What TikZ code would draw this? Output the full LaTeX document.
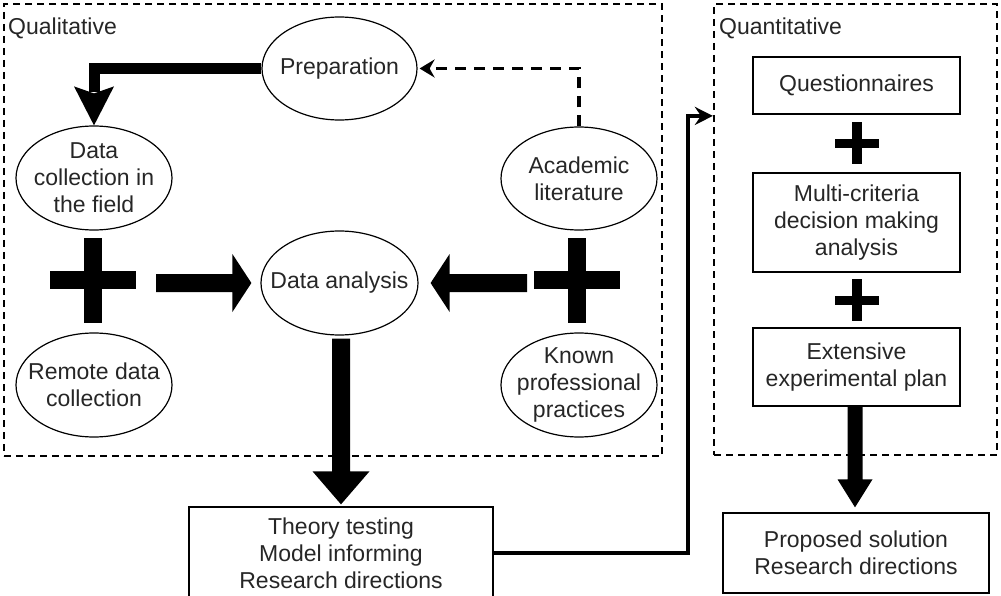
\documentclass[tikz,border=0pt]{standalone}
\usepackage{fontspec}
\setmainfont{Liberation Sans}
\usetikzlibrary{shapes.geometric,arrows.meta,calc}
\begin{document}
\begin{tikzpicture}[x=1pt,y=-1pt,
  font=\fontsize{23}{27}\selectfont,
  every node/.style={text=black!85},
  ell/.style={ellipse, draw, line width=1.2pt, minimum width=156pt, minimum height=104pt, inner sep=0pt},
  lbl/.style={align=center, inner sep=0pt},
  rbox/.style={rectangle, draw, line width=1.3pt, align=center, inner sep=0pt, minimum width=207pt},
  region/.style={rectangle, draw, line width=2.2pt, dash pattern=on 7pt off 5pt},
  heading/.style={anchor=west, inner sep=0pt},
  thickconn/.style={line width=11pt, line join=miter},
  dashconn/.style={line width=3.5pt, dash pattern=on 11pt off 8pt, -{Stealth[length=15pt,width=18pt,inset=5pt]}},
  linkconn/.style={line width=3.5pt, line join=miter, -{Stealth[length=18pt,width=18pt,inset=6pt]}}
]
\useasboundingbox (0,0) rectangle (1001,596);

% regions
\node[region, minimum width=658pt, minimum height=452pt] (qual) at (333,230) {};
\node[region, minimum width=283pt, minimum height=451pt] (quant) at (855.5,229.5) {};
\node[heading] (qualt) at (8,28) {Qualitative};
\node[heading] (quantt) at (719,28) {Quantitative};

% qualitative ellipses
\node[ell, minimum width=155pt, minimum height=103pt, label={[lbl]center:Preparation}] (prep) at (339.5,68.5) {};
\node[ell, label={[lbl]center:{Data\\collection in\\the field}}] (dc) at (94,178) {};
\node[ell, minimum width=157pt, label={[lbl]center:Data analysis}] (da) at (339.5,283) {};
\node[ell, label={[lbl]center:{Remote data\\collection}}] (rd) at (94,385) {};
\node[ell, minimum height=103pt, label={[lbl]center:{Academic\\literature}}] (al) at (579,178.5) {};
\node[ell, label={[lbl]center:{Known\\professional\\practices}}] (kp) at (579,385) {};

% boxes
\node[rbox, minimum height=57pt] (q1) at (856.5,85.5) {Questionnaires};
\node[rbox, minimum height=99pt] (q2) at (856.5,222.5) {Multi-criteria\\decision making\\analysis};
\node[rbox, minimum height=78pt] (q3) at (856.5,367) {Extensive\\experimental plan};
\node[rbox, minimum width=266pt, minimum height=80pt] (q4) at (856,553) {Proposed solution\\Research directions};
\node[rbox, minimum width=304pt, minimum height=92pt] (th) at (341,553) {Theory testing\\Model informing\\Research directions};

% plus signs
\coordinate (pl1) at (92.5,280);
\coordinate (pl2) at (577,280);
\coordinate (pl3) at ($(q1.south)!0.5!(q2.north)$);
\coordinate (pl4) at ($(q2.south)!0.5!(q3.north)$);
\foreach \c in {pl1,pl2}{
  \fill ($(\c)+(-43,-9)$) rectangle ($(\c)+(43,9)$);
  \fill ($(\c)+(-9,-42.5)$) rectangle ($(\c)+(9,42.5)$);
}
\foreach \c in {pl3,pl4}{
  \fill ($(\c)+(-22,-4.5)$) rectangle ($(\c)+(22,4.5)$);
  \fill ($(\c)+(-5,-21)$) rectangle ($(\c)+(5,21)$);
}

% Preparation -> Data collection
\draw[thickconn] (prep.west) -| ($(dc.north)+(0,-33)$);
\fill (dc.north) -- ($(dc.north)+(-20,-39)$) -- ($(dc.north)+(0,-32)$) -- ($(dc.north)+(20,-39)$) -- cycle;

% Academic literature -> Preparation
\draw[dashconn] (al.north) |- ($(prep.east)+(2,0)$);

% block arrow left plus -> Data analysis
\coordinate (a1s) at (156,283);
\coordinate (a1t) at ($(da.west)+(-9,0)$);
\fill ($(a1s)+(0,-9)$) -- ($(a1t)+(-19,-9)$) -- ($(a1t)+(-19,-29)$) -- (a1t)
  -- ($(a1t)+(-19,29)$) -- ($(a1t)+(-19,9)$) -- ($(a1s)+(0,9)$) -- cycle;

% block arrow right plus -> Data analysis
\coordinate (a2s) at (527,283);
\coordinate (a2t) at ($(da.east)+(12,0)$);
\fill ($(a2s)+(0,-9)$) -- ($(a2t)+(19,-9)$) -- ($(a2t)+(19,-29)$) -- (a2t)
  -- ($(a2t)+(19,29)$) -- ($(a2t)+(19,9)$) -- ($(a2s)+(0,9)$) -- cycle;

% Data analysis -> Theory testing
\coordinate (a3s) at ($(da.south)+(1.5,3)$);
\coordinate (a3t) at ($(th.north)+(0,-2)$);
\fill ($(a3s)+(-9,0)$) -- ($(a3t)+(-9,-33)$) -- ($(a3t)+(-28.5,-33)$) -- (a3t)
  -- ($(a3t)+(28.5,-33)$) -- ($(a3t)+(9,-33)$) -- ($(a3s)+(9,0)$) -- cycle;

% Extensive -> Proposed
\coordinate (a4s) at ($(q3.south)+(-1.5,0)$);
\coordinate (a4t) at ($(q4.north)+(-1,-5)$);
\fill ($(a4s)+(-7.5,0)$) -- ($(a4t)+(-7.5,-28)$) -- ($(a4t)+(-17.5,-28)$) -- (a4t)
  -- ($(a4t)+(17.5,-28)$) -- ($(a4t)+(7.5,-28)$) -- ($(a4s)+(7.5,0)$) -- cycle;

% Theory testing -> Quantitative
\coordinate (qin) at ($(quant.north west)+(0,113)$);
\coordinate (bend) at ($(qin)+(-25,0)$);
\draw[linkconn] (th.east) -| (bend) -- (qin);
\end{tikzpicture}
\end{document}
